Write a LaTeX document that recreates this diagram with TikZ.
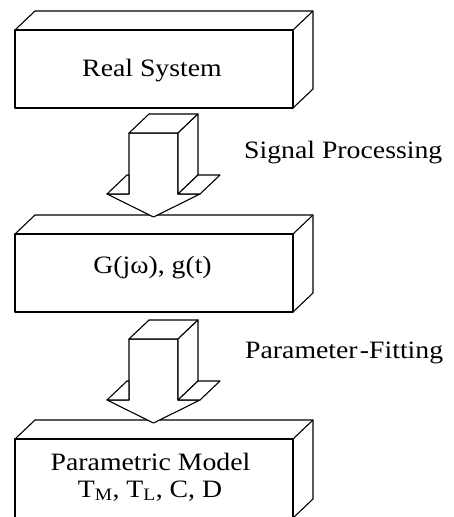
\documentclass[tikz,border=0pt]{standalone}
\usepackage{graphicx}
\usepackage{fontspec}
\setmainfont{Liberation Serif}
\newcommand\widetext[1]{\scalebox{1.11}[1]{#1}}
\tikzset{
  edge/.style={line width=1.1pt, line join=round, black},
  box/.style={edge, draw, fill=white, minimum width=278pt, minimum height=78pt, inner sep=0pt, outer sep=0pt},
  txt/.style={inner sep=0pt, font=\fontsize{25}{30}\selectfont},
  pics/arrowthreed/.style={code={
    \draw[edge, fill=white] (0,0) -- (0,61) -- (-22,61) -- (24.5,84) -- (71,61) -- (49,61) -- (49,0) -- cycle;
    \draw[edge, fill=white] (0,0) -- (20,-19) -- (69,-19) -- (49,0) -- cycle;
    \draw[edge, fill=white] (49,0) -- (69,-19) -- (69,42) -- (49,61) -- cycle;
    \draw[edge, fill=white] (49,61) -- (69,42) -- (91,42) -- (71,61) -- cycle;
    \draw[edge, fill=white] (-22,61) -- (-2,42) -- (0,42) -- (0,61) -- cycle;
  }}
}
\begin{document}
\begin{tikzpicture}[x=1pt,y=-1pt]
\useasboundingbox (0,0) rectangle (454,517);
% boxes
\node[box] (real) at (154,69) {};
\draw[edge] (real.north west) -- ++(20,-19) -- ++(278,0) -- ++(0,78) -- (real.south east);
\draw[edge] (real.north east) -- ++(20,-19);
\node[box] (freq) at (154,273) {};
\draw[edge] (freq.north west) -- ++(20,-19) -- ++(278,0) -- ++(0,78) -- (freq.south east);
\draw[edge] (freq.north east) -- ++(20,-19);
\node[box, minimum height=79pt] (model) at (154,478.5) {};
\draw[edge] (model.north west) -- ++(20,-19) -- ++(278,0) -- ++(0,79) -- (model.south east);
\draw[edge] (model.north east) -- ++(20,-19);
% texts
\node[txt, anchor=base] (t1) at (152,76) {\widetext{Real System}};
\node[txt, anchor=base] (t2) at (152.5,273) {\widetext{G(jω), g(t)}};
\node[txt, anchor=base] (t3) at (150.5,470) {\widetext{Parametric Model}};
\node[txt, anchor=base] (t4) at (150,497) {\widetext{T\textsubscript{M}, T\textsubscript{L}, C, D}};
% arrows
\pic at (129,133) {arrowthreed};
\pic at (129,339) {arrowthreed};
\node[txt, anchor=base west] (l1) at (244,158) {\widetext{Signal Processing}};
\node[txt, anchor=base west] (l2) at (245,358) {\widetext{Parameter\kern2pt-Fitting}};
\end{tikzpicture}
\end{document}
